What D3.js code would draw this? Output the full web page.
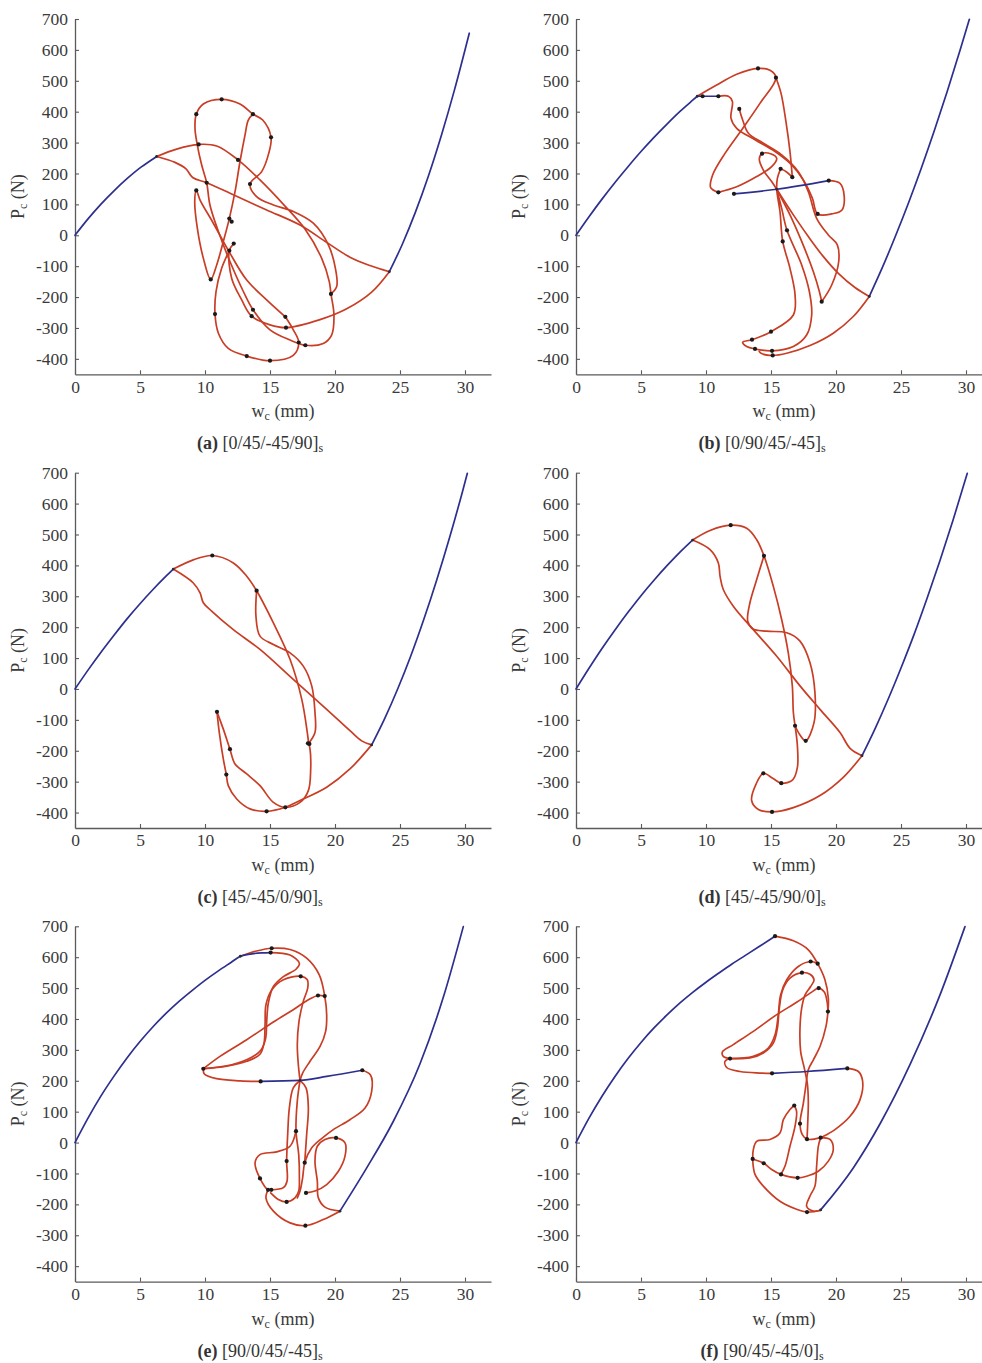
<!DOCTYPE html>
<html>
<head>
<meta charset="utf-8">
<script src="https://cdn.jsdelivr.net/npm/d3@7"></script>
<style>
  body { margin: 0; background: #fff; }
  svg text { font-family: "Liberation Serif", "Times New Roman", serif; }
</style>
</head>
<body>
<svg id="fig" width="982" height="1363"></svg>
<script>
// ---- axis ticks and captions ----
const xTicks = [0, 5, 10, 15, 20, 25, 30];
const yTicks = [-400, -300, -200, -100, 0, 100, 200, 300, 400, 500, 600, 700];
const panelLetters = ["a", "b", "c", "d", "e", "f"];
const layups = ["[0/45/-45/90]", "[0/90/45/-45]", "[45/-45/0/90]", "[45/-45/90/0]", "[90/0/45/-45]", "[90/45/-45/0]"];

// ---- (a) [0/45/-45/90]s : w_c (mm), P_c (N) ----
const blueA = [
  [[0,0],[1,53],[2,101],[3,144],[4,183],[5,218],[6,247],[6.28,255]],
  [[24.18,-118],[25.18,-29],[26.18,74],[27.18,191],[28.18,323],[29.18,469],[30.33,654]]
];
const redA = [
  [[6.28,255],[7.69,236],[8.54,215],[9.05,187],[10.13,170],[12.18,131],[14.74,82],[17.31,33],[19.36,-23],[21.15,-71],[22.69,-98],[24.18,-118]],
  [[6.28,255],[7.82,279],[9.51,294],[10.9,289],[12.54,244],[14.23,179],[16.03,100],[17.69,20],[18.97,-74],[19.56,-150],[19.69,-190],[19.92,-258],[19.74,-323],[19.1,-350],[17.72,-356],[16.54,-339],[15.0,-306],[13.69,-241],[12.95,-182],[11.92,-85],[11.03,12],[10.38,98],[10.13,170],[9.74,228],[9.41,292],[9.23,346],[9.33,392],[9.87,425],[11.28,440],[12.69,425],[13.69,392],[14.44,373],[15.08,317],[14.9,265],[14.36,206],[13.46,166],[13.97,125],[15.26,98],[16.79,77],[18.33,39],[19.49,-31],[20.03,-107],[20.13,-166],[19.69,-190]],
  [[24.18,-118],[22.82,-184],[20.9,-238],[18.85,-273],[16.23,-299],[15.0,-290],[13.59,-262],[12.82,-209],[12.05,-139],[11.87,-50],[12.21,-27]],
  [[16.18,-264],[14.74,-209],[13.21,-145],[11.92,-58],[10.64,39],[9.62,114],[9.33,145],[9.21,109],[9.41,23],[9.87,-74],[10.44,-143],[10.9,-96],[11.41,-20],[11.87,54],[12.31,141],[12.69,238],[13.08,325],[13.33,373],[13.69,392]],
  [[16.18,-264],[16.79,-306],[17.21,-347],[16.79,-389],[15.0,-406],[13.21,-391],[11.79,-366],[11.03,-317],[10.77,-255],[10.85,-182],[11.28,-107],[11.87,-50]]
];
const dotsA = [[11.28,440],[9.33,392],[13.69,392],[15.08,317],[9.51,294],[12.54,244],[10.13,170],[13.46,166],[9.33,145],[11.87,54],[12.05,44],[12.21,-27],[11.87,-50],[10.44,-143],[19.69,-190],[10.77,-255],[13.69,-241],[13.59,-262],[16.18,-264],[16.23,-299],[17.21,-347],[17.72,-356],[13.21,-391],[15.0,-406]];
const nodesA = [[6.28,255],[24.18,-118]];

// ---- (b) [0/90/45/-45]s ----
const blueB = [
  [[0,0],[1,60],[2,117],[3,171],[4,222],[5,271],[6,317],[7,360],[8,401],[9,438],[9.33,450]],
  [[9.33,450],[9.74,450],[10.95,450]],
  [[12.15,134],[15.44,149],[19.44,177]],
  [[22.56,-198],[23.56,-105],[24.56,-4],[25.56,103],[26.56,217],[27.56,338],[28.56,466],[29.56,601],[30.26,699]]
];
const redB = [
  [[9.33,450],[10.82,486],[12.36,521],[14.0,540],[14.92,534],[15.38,510],[14.15,427],[12.74,341],[11.46,265],[10.51,195],[10.36,154],[10.95,139]],
  [[15.38,510],[15.77,460],[16.15,368],[16.46,271],[16.64,188]],
  [[10.95,450],[11.72,450],[12.03,433],[11.92,379],[12.36,346],[13.77,309],[15.31,271],[16.59,228],[17.49,179],[18.18,120],[18.59,69],[19.67,69],[20.46,82],[20.62,131],[20.31,168],[19.44,177]],
  [[10.95,139],[12.36,157],[13.9,190],[15.05,222],[15.44,249],[14.97,264],[14.31,264],[14.1,247],[14.41,211],[15.05,174],[15.44,149]],
  [[15.74,215],[15.49,184],[15.44,149],[15.69,77],[15.9,-20],[16.46,-107],[16.85,-193],[16.72,-258],[15.0,-312],[13.54,-338],[12.82,-346],[13.13,-360],[13.77,-368],[15.08,-374],[16.72,-360],[17.74,-323],[18.13,-258],[17.95,-182],[17.36,-96],[16.23,16],[15.82,87],[15.44,149]],
  [[12.56,409],[12.82,373],[13.26,330],[14.41,298],[15.82,260],[17.1,206],[17.87,141],[18.51,55],[19.41,1],[20.1,-31],[20.21,-85],[19.67,-161],[18.9,-215]],
  [[22.56,-198],[21.46,-169],[20.18,-123],[19.03,-69],[17.87,-4],[16.72,66],[15.44,149]],
  [[22.56,-198],[21.33,-263],[19.79,-317],[18.0,-357],[16.21,-382],[15.13,-389],[14.28,-383],[14.1,-376]],
  [[15.44,149],[16.46,66],[17.36,-20],[18.26,-118],[18.72,-182],[18.9,-215]],
  [[15.74,215],[16.2,205],[16.64,188]]
];
const dotsB = [[14.0,540],[15.38,510],[9.74,450],[10.95,450],[12.56,409],[14.31,264],[15.74,215],[16.64,188],[19.44,177],[10.95,139],[12.15,134],[18.59,69],[16.23,16],[15.9,-20],[18.9,-215],[15.0,-312],[13.54,-338],[13.77,-368],[15.08,-374],[15.13,-389]];
const nodesB = [[9.33,450],[22.56,-198],[15.44,149]];

// ---- (c) [45/-45/0/90]s ----
const blueC = [
  [[0,0],[1,61],[2,119],[3,174],[4,227],[5,276],[6,322],[7,365],[7.56,388]],
  [[22.82,-181],[23.82,-96],[24.82,0],[25.82,106],[26.82,224],[27.82,352],[28.82,491],[29.82,641],[30.18,698]]
];
const redC = [
  [[7.56,388],[9.1,418],[10.56,432],[12.18,408],[13.21,365],[13.97,318],[15.26,214],[16.54,96],[17.44,-33],[17.87,-141],[17.97,-176]],
  [[7.56,388],[9.1,343],[9.62,311],[9.87,279],[10.51,252],[12.18,192],[14.23,128],[16.79,31],[19.36,-66],[21.15,-135],[22.05,-168],[22.82,-181]],
  [[13.97,318],[13.92,235],[14.23,171],[15.26,144],[16.54,117],[17.56,74],[18.21,10],[18.46,-76],[18.46,-141],[17.97,-176]],
  [[22.82,-181],[21.15,-259],[19.36,-318],[17.31,-361],[16.18,-383],[14.74,-396],[13.46,-388],[12.44,-356],[11.79,-313],[11.64,-277],[11.41,-227],[11.1,-141],[10.92,-74]],
  [[10.92,-74],[11.41,-130],[11.92,-195],[12.31,-243],[13.21,-275],[14.23,-313],[15.26,-367],[16.18,-383],[17.31,-367],[17.95,-329],[18.13,-259],[18.08,-195],[17.97,-176]]
];
const dotsC = [[10.56,432],[13.97,318],[17.92,-176],[18.03,-178],[10.92,-74],[11.92,-195],[11.64,-277],[14.74,-396],[16.18,-383]];
const nodesC = [[7.56,388],[22.82,-181]];

// ---- (d) [45/-45/90/0]s ----
const blueD = [
  [[0,0],[1,67],[2,131],[3,191],[4,248],[5,302],[6,352],[7,399],[8,443],[8.97,482]],
  [[22.0,-216],[23,-129],[24,-34],[25,68],[26,176],[27,293],[28,416],[29,546],[30.1,698]]
];
const redD = [
  [[8.97,482],[10.31,513],[11.9,530],[13.13,520],[13.9,483],[14.46,431],[15.18,332],[15.82,225],[16.33,117],[16.64,10],[16.72,-76],[16.85,-119]],
  [[8.97,482],[10.31,451],[10.95,408],[11.08,365],[11.33,322],[12.1,268],[13.64,192],[15.44,106],[17.23,10],[18.77,-66],[20.31,-141],[21.08,-192],[22.0,-216]],
  [[14.46,431],[13.9,354],[13.38,279],[13.21,219],[13.59,195],[14.67,187],[16.21,182],[17.23,155],[18.0,85],[18.38,-12],[18.31,-109],[17.67,-168],[17.23,-149],[16.85,-119]],
  [[16.85,-119],[17.03,-184],[17.03,-254],[16.67,-294],[15.79,-305],[15.13,-289],[14.41,-273],[13.85,-308],[13.51,-361],[14.03,-390],[15.08,-398],[16.72,-384],[18.77,-345],[20.56,-286],[22.0,-216]]
];
const dotsD = [[11.9,530],[14.46,431],[16.85,-119],[17.67,-168],[14.41,-273],[15.79,-305],[15.08,-398]];
const nodesD = [[8.97,482],[22.0,-216]];

// ---- (e) [90/0/45/-45]s ----
const blueE = [
  [[0,0],[1,79],[2,151],[3,215],[4,274],[5,327],[6,375],[7,418],[8,457],[9,492],[10,525],[11,555],[12,583],[12.72,603],[13.6,611],[14.4,614],[15.05,615]],
  [[14.28,198],[17.31,201],[19.36,214],[22.1,234]],
  [[20.38,-222],[22.44,-82],[24.49,69],[26.54,255],[28.33,470],[29.87,699]]
];
const redE = [
  [[15.05,615],[16.54,607],[17.26,580],[17.0,561],[16.03,537],[15.26,505],[14.87,451],[14.74,387],[14.67,338],[14.31,300],[13.59,276],[12.05,252],[9.87,239]],
  [[12.72,603],[13.97,620],[15.13,629],[16.54,625],[17.82,597],[18.79,543],[19.21,474],[19.36,414],[19.28,360],[18.85,311],[18.08,263],[17.51,225],[17.31,201]],
  [[9.87,239],[11.15,279],[13.21,333],[15.26,390],[16.79,430],[17.95,462],[18.69,476],[19.21,474]],
  [[9.87,239],[11.67,247],[13.21,263],[14.23,286],[14.54,322],[14.62,381],[14.69,446],[15.13,494],[16.03,527],[17.36,538],[17.87,527],[17.9,500],[17.56,457],[17.23,392],[17.1,317],[17.18,252],[17.31,201]],
  [[9.87,239],[9.95,222],[10.9,207],[12.69,200],[14.28,198]],
  [[22.1,234],[22.74,218],[22.82,166],[22.31,112],[21.15,74],[19.87,42],[18.97,13],[18.21,-17],[17.67,-65],[17.51,-114],[17.31,-157],[17.1,-179]],
  [[17.77,-163],[18.46,-157],[19.36,-136],[20.26,-93],[20.77,-44],[20.77,-1],[20.08,15],[19.23,10],[18.64,-12],[18.46,-60],[18.64,-125],[18.72,-179],[19.23,-209],[20.38,-222]],
  [[17.31,201],[16.79,177],[16.49,112],[16.36,26],[16.28,-60],[16.31,-125],[16.03,-146],[15.1,-153]],
  [[17.31,201],[17.1,134],[17.0,37],[17.21,-39],[17.26,-114],[17.21,-157],[16.92,-179],[16.28,-192],[15.64,-184],[15.05,-163]],
  [[17.0,37],[16.54,-12],[15.51,-30],[14.23,-39],[13.85,-66],[14.23,-116],[14.85,-153],[15.1,-153]],
  [[14.85,-153],[14.69,-179],[15.26,-222],[16.54,-260],[17.72,-269],[19.1,-249],[20.38,-222]],
  [[17.31,201],[17.77,177],[17.95,112],[17.82,26],[17.67,-65]]
];
const dotsE = [[15.13,629],[15.05,615],[17.36,538],[18.69,476],[19.21,474],[9.87,239],[14.28,198],[22.1,234],[17.0,37],[20.08,15],[16.28,-60],[17.67,-65],[14.23,-116],[14.85,-153],[15.1,-153],[17.77,-163],[16.28,-192],[17.72,-269]];
const nodesE = [[12.72,603],[20.38,-222],[17.31,201]];

// ---- (f) [90/45/-45/0]s ----
const blueF = [
  [[0,0],[1,79],[2,150],[3,214],[4,272],[5,324],[6,371],[7,413],[8,452],[9,487],[10,519],[11,549],[12,578],[13,605],[14,632],[15.31,668]],
  [[15.08,224],[17.74,230],[20.87,240]],
  [[18.82,-218],[21.33,-82],[23.38,60],[25.69,252],[28.0,478],[29.92,699]]
];
const redF = [
  [[15.31,668],[16.72,653],[17.87,624],[18.59,579],[19.15,527],[19.41,467],[19.38,424],[19.23,376],[18.77,311],[18.26,268],[17.87,236],[17.69,187],[17.49,128],[17.23,61],[17.41,26],[17.77,11],[18.82,16]],
  [[11.85,272],[13.64,279],[14.79,306],[15.31,349],[15.56,414],[15.74,478],[16.21,527],[17.1,570],[18.05,586],[18.59,579]],
  [[11.85,272],[13.38,274],[14.41,290],[15.18,322],[15.49,370],[15.64,435],[15.9,494],[16.46,532],[17.38,550],[18.0,545],[18.31,527],[18.05,505],[17.62,478],[17.36,435],[17.23,370],[17.28,295],[17.56,241],[17.79,193],[17.87,134],[17.82,58],[17.77,11]],
  [[11.85,272],[11.33,279],[11.26,293],[12.1,317],[13.64,360],[15.44,414],[16.97,454],[18.13,487],[18.67,500],[19.1,487],[19.31,457],[19.38,424]],
  [[20.87,240],[21.72,230],[22.05,198],[21.85,139],[21.08,85],[19.92,42],[19.03,20],[18.82,16]],
  [[18.82,16],[19.54,10],[19.79,-23],[19.41,-60],[18.64,-93],[17.74,-109],[17.05,-114],[15.77,-103],[15.05,-87],[14.44,-67],[13.59,-53]],
  [[18.82,16],[18.64,-12],[18.51,-76],[18.38,-141],[18.0,-173],[17.74,-206],[18.26,-222],[18.82,-219]],
  [[13.59,-53],[13.77,-103],[14.41,-141],[15.69,-190],[16.97,-216],[17.77,-225],[18.82,-219]],
  [[16.79,120],[16.46,107],[15.95,74],[15.69,31],[14.92,10],[13.9,4],[13.64,-23],[13.59,-53]],
  [[16.79,120],[16.97,101],[16.85,53],[16.46,-12],[16.08,-76],[15.77,-103]],
  [[11.85,272],[11.46,263],[11.59,243],[12.62,230],[14.15,225],[15.08,224]]
];
const dotsF = [[15.31,668],[18.05,586],[18.59,579],[17.38,550],[18.67,500],[19.38,424],[11.85,272],[15.08,224],[20.87,240],[16.79,120],[17.23,61],[17.77,11],[18.82,16],[13.59,-53],[14.44,-67],[15.77,-103],[17.05,-114],[17.77,-225]];
const nodesF = [[18.82,-218]];

const panels = [
  { blue: blueA, red: redA, dots: dotsA, nodes: nodesA },
  { blue: blueB, red: redB, dots: dotsB, nodes: nodesB },
  { blue: blueC, red: redC, dots: dotsC, nodes: nodesC },
  { blue: blueD, red: redD, dots: dotsD, nodes: nodesD },
  { blue: blueE, red: redE, dots: dotsE, nodes: nodesE },
  { blue: blueF, red: redF, dots: dotsF, nodes: nodesF }
];

// ---- layout ----
const svg = d3.select("#fig");
svg.append("rect").attr("width", 982).attr("height", 1363).attr("fill", "#fff");
const colX = [75, 576];
const rowY = [19, 472.7, 926.3];
const plotW = 416, plotH = 355.3;
const captionX = [260, 762];
const BLUE = "#2d2f8e", RED = "#c93d25", AXIS = "#5a5a5a", TEXT = "#3a3a3a";

panels.forEach((p, i) => {
  const col = i % 2, row = Math.floor(i / 2);
  const x0 = colX[col], y0 = rowY[row];
  const x = d3.scaleLinear().domain([0, 32]).range([x0, x0 + plotW]);
  const y = d3.scaleLinear().domain([-450, 700]).range([y0 + plotH, y0]);
  const g = svg.append("g");

  const gx = g.append("g").attr("transform", `translate(0,${y0 + plotH})`)
    .call(d3.axisBottom(x).tickValues(xTicks).tickFormat(d => String(d))
      .tickSizeInner(-4).tickSizeOuter(0).tickPadding(6));
  const gy = g.append("g").attr("transform", `translate(${x0},0)`)
    .call(d3.axisLeft(y).tickValues(yTicks).tickFormat(d => String(d))
      .tickSizeInner(-4).tickSizeOuter(0).tickPadding(7));
  [gx, gy].forEach(a => {
    a.attr("font-family", null).attr("font-size", null);
    a.select(".domain").attr("stroke", AXIS).attr("stroke-width", 1.3);
    a.selectAll(".tick line").attr("stroke", AXIS).attr("stroke-width", 1.1);
    a.selectAll(".tick text").attr("fill", TEXT).style("font-size", "17.5px");
  });

  // snap paths: smooth curves through the traced points
  const redLine = d3.line().x(d => x(d[0])).y(d => y(d[1]))
    .curve(d3.curveCatmullRom.alpha(0.5));
  // equilibrium branches are single-valued in w
  const blueLine = d3.line().x(d => x(d[0])).y(d => y(d[1]))
    .curve(d3.curveMonotoneX);

  g.append("g").selectAll("path").data(p.red).join("path")
    .attr("d", redLine).attr("fill", "none").attr("stroke", RED)
    .attr("stroke-width", 1.7).attr("stroke-linejoin", "round").attr("stroke-linecap", "round");
  g.append("g").selectAll("path").data(p.blue).join("path")
    .attr("d", blueLine).attr("fill", "none").attr("stroke", BLUE)
    .attr("stroke-width", 1.7).attr("stroke-linecap", "round");
  g.append("g").selectAll("circle").data(p.nodes).join("circle")
    .attr("cx", d => x(d[0])).attr("cy", d => y(d[1])).attr("r", 1.4).attr("fill", "#2a2a3a");
  g.append("g").selectAll("circle").data(p.dots).join("circle")
    .attr("cx", d => x(d[0])).attr("cy", d => y(d[1])).attr("r", 2.1).attr("fill", "#1a1a1a");

  // axis titles
  const xt = g.append("text").attr("x", x0 + plotW / 2).attr("y", y0 + plotH + 43)
    .attr("text-anchor", "middle").attr("fill", TEXT).style("font-size", "18px");
  xt.append("tspan").text("w");
  xt.append("tspan").text("c").style("font-size", "12px").attr("dy", 3);
  xt.append("tspan").text(" (mm)").attr("dy", -3);

  const yt = g.append("text")
    .attr("transform", `translate(${x0 - 57},${y0 + plotH / 2}) rotate(-90)`)
    .attr("text-anchor", "middle").attr("fill", TEXT).style("font-size", "18px");
  yt.append("tspan").text("P").attr("dy", "0.35em");
  yt.append("tspan").text("c").style("font-size", "12px").attr("dy", 3);
  yt.append("tspan").text(" (N)").attr("dy", -3);

  // caption
  const cap = g.append("text").attr("x", captionX[col]).attr("y", y0 + plotH + 75)
    .attr("text-anchor", "middle").attr("fill", "#333").style("font-size", "18px");
  cap.append("tspan").text(`(${panelLetters[i]})`).style("font-weight", "bold");
  cap.append("tspan").text(" " + layups[i]);
  cap.append("tspan").text("s").style("font-size", "12px").attr("dy", 3);
});
</script>
</body>
</html>
